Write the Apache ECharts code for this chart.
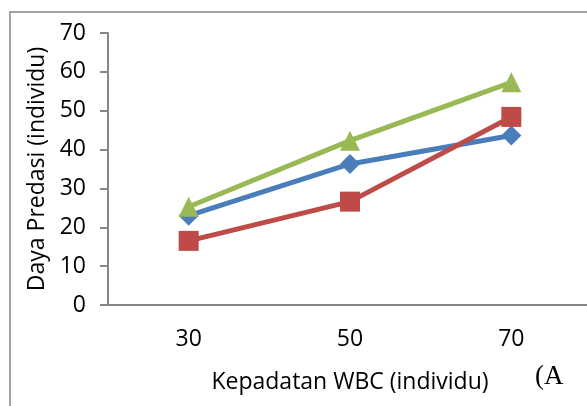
<!DOCTYPE html>
<html>
<head>
<meta charset="utf-8">
<script src="https://cdn.jsdelivr.net/npm/echarts@6/dist/echarts.min.js"></script>
<style>
    html, body { margin: 0; padding: 0; background: #fff; }
    #chart { width: 587px; height: 406px; }
</style>
</head>
<body>
<div id="chart"></div>
<script>
    // data
    var categories = ['30', '50', '70'];
    var seriesBlue = [23.0, 36.3, 43.6];
    var seriesRed = [16.5, 26.6, 48.4];
    var seriesGreen = [25.3, 42.3, 57.3];

    var axisColor = '#868686';
    var fontName = 'Open Sans';
    var fontSize = 23;

    var chart = echarts.init(document.getElementById('chart'));

    function lineSeries(data, color, symbol) {
        return {
            type: 'line',
            data: data,
            symbol: symbol,
            symbolSize: 20,
            lineStyle: { color: color, width: 5 },
            itemStyle: { color: color },
            animation: false
        };
    }

    var option = {
        animation: false,
        // plot area runs a little past the right edge of the picture
        grid: { left: 108, top: 33, width: 484, height: 272, outerBoundsMode: 'none' },
        xAxis: {
            type: 'category',
            data: categories,
            boundaryGap: true,
            name: 'Kepadatan WBC (individu)',
            nameLocation: 'middle',
            nameGap: 66,
            nameTextStyle: { fontFamily: fontName, fontSize: fontSize, color: '#000' },
            axisLine: { lineStyle: { color: axisColor, width: 2 } },
            axisTick: { show: false },
            axisLabel: { fontFamily: fontName, fontSize: fontSize, color: '#000', margin: 23 },
            splitLine: { show: false }
        },
        yAxis: {
            type: 'value',
            min: 0,
            max: 70,
            interval: 10,
            name: 'Daya Predasi (individu)',
            nameLocation: 'middle',
            nameGap: 56,
            nameRotate: 90,
            nameTextStyle: { fontFamily: fontName, fontSize: fontSize, color: '#000' },
            axisLine: { show: true, lineStyle: { color: axisColor, width: 2 } },
            axisTick: { show: true, length: 8, lineStyle: { color: axisColor, width: 2 } },
            axisLabel: { fontFamily: fontName, fontSize: fontSize, color: '#000', margin: 22 },
            splitLine: { show: false }
        },
        graphic: [
            {
                type: 'rect',
                shape: { x: 10, y: 12, width: 620, height: 430 },
                style: { fill: 'none', stroke: axisColor, lineWidth: 1.5 },
                z: -1
            },
            {
                type: 'text',
                left: 535,
                top: 363,
                style: { text: '(A', font: '27px "Liberation Serif"', fill: '#000' }
            }
        ],
        series: [
            lineSeries(seriesBlue, '#4a7ebb', 'diamond'),
            lineSeries(seriesRed, '#be4b48', 'rect'),
            lineSeries(seriesGreen, '#98b954', 'triangle')
        ]
    };

    chart.setOption(option);
</script>
</body>
</html>
